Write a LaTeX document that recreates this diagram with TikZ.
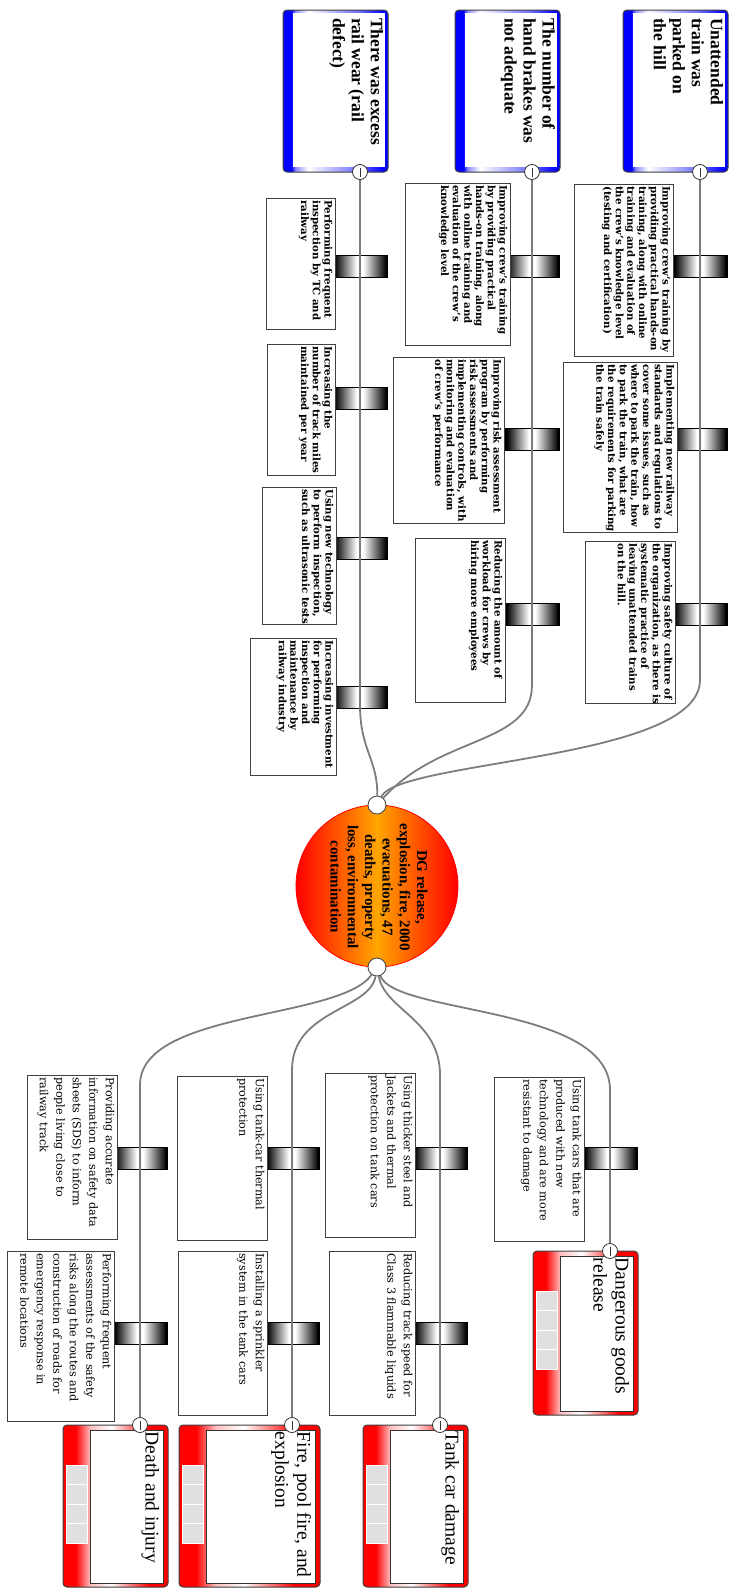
\documentclass[tikz,border=0pt]{standalone}
\usepackage{fontspec}
\setmainfont{Liberation Serif}
\newfontfamily\cfont{DejaVu Serif}
\definecolor{linegray}{RGB}{125,125,125}
\definecolor{midorange}{RGB}{255,165,0}
\colorlet{bluelight}{blue!45!white}
\colorlet{bluemid}{blue!55!white}
\colorlet{redlight}{red!25!white}
\pgfdeclarehorizontalshading{blueshade}{100bp}{color(0bp)=(blue); color(29bp)=(blue); color(31bp)=(bluelight); color(37bp)=(white); color(60bp)=(bluemid); color(73bp)=(blue); color(100bp)=(blue)}
\pgfdeclarehorizontalshading{redshade}{100bp}{color(0bp)=(red); color(31bp)=(red); color(38bp)=(redlight); color(48bp)=(white); color(66bp)=(red); color(100bp)=(red)}
\pgfdeclarehorizontalshading{barshade}{100bp}{color(0bp)=(black); color(26.5bp)=(black); color(47bp)=(white); color(53bp)=(white); color(74bp)=(black); color(100bp)=(black)}
\pgfdeclarelayer{bglayer}
\pgfdeclarelayer{barlayer}
\pgfdeclarelayer{linelayer}
\pgfsetlayers{bglayer,barlayer,linelayer,main}
\tikzset{
  conn/.style={draw=linegray, line width=1.8pt},
  ctrlbox/.style={rectangle, draw=black!75, fill=white, line width=0.8pt, inner sep=0, outer sep=0},
  ltxt/.style={font=\cfont\bfseries\fontsize{10.2}{11.7}\selectfont, align=left, inner sep=0, rotate=-90, anchor=north west},
  rtxt/.style={font=\cfont\fontsize{11.2}{16.5}\selectfont, align=left, inner sep=0, rotate=-90, anchor=north west},
  barrier/.style={rectangle, shade, shading=barshade, draw=black, line width=0.6pt, minimum width=54, minimum height=22, inner sep=0},
  icirc/.style={circle, draw=black!80, fill=white, minimum size=15, inner sep=0, line width=0.8pt, path picture={\draw[line width=0.9pt] ([yshift=-4.5pt]path picture bounding box.center) -- ([yshift=4.5pt]path picture bounding box.center);}},
  jcirc/.style={circle, draw=black!70, fill=white, minimum size=18, inner sep=0, line width=0.9pt},
  threatbox/.style={rectangle, rounded corners=4pt, shade, shading=blueshade, draw=black!75, line width=1pt, inner sep=0},
  consbox/.style={rectangle, rounded corners=4pt, shade, shading=redshade, draw=black!75, line width=1pt, inner sep=0},
  innerwhite/.style={rectangle, fill=white, inner sep=0},
  consinner/.style={rectangle, fill=white, draw=black!80, line width=0.6pt, inner sep=0},
  cell/.style={rectangle, fill=black!12, draw=white, line width=0.8pt, inner sep=0, minimum width=21, minimum height=19.5},
  threattxt/.style={font=\bfseries\fontsize{17.5}{19}\selectfont, align=left, inner sep=0, rotate=-90, anchor=north west},
  constxt/.style={font=\fontsize{19.5}{22}\selectfont, align=left, inner sep=0, rotate=-90, anchor=north west},
  tetxt/.style={font=\bfseries\fontsize{15}{17.3}\selectfont, align=center, inner sep=0, rotate=-90}
}
\newcommand\ctl[7]{%
  \node[ctrlbox, minimum width={#4-#2}, minimum height={#5-#3}] (#1) at ({(#2+#4)/2},{(#3+#5)/2}) {};
  \node[#6] (#1-t) at ([shift={(-2.5,2)}]#1.north east) {#7};}
\newcommand\threat[6]{%
  \node[threatbox, minimum width={#4-#2}, minimum height={#5-#3}] (#1) at ({(#2+#4)/2},{(#3+#5)/2}) {};
  \node[innerwhite, minimum width={#4-#2-13}, minimum height={#5-#3-8}] (#1-in) at ({(#2+#4)/2+3.5},{(#3+#5)/2-1}) {};
  \node[threattxt] (#1-t) at ([shift={(-2,5)}]#1-in.north east) {#6};}
\newcommand\conseq[6]{%
  \node[consbox, minimum width={#4-#2}, minimum height={#5-#3}] (#1) at ({(#2+#4)/2},{(#3+#5)/2}) {};
  \node[consinner, minimum width={#4-#2-32}, minimum height={#5-#3-9}] (#1-in) at ({(#2+#4)/2+11},{(#3+#5)/2+0.5}) {};
  \foreach \k in {0,1,2,3} {\node[cell] (#1-c\k) at ({#2+13.5},{#3+49.75+19.5*\k}) {};}
  \node[constxt] (#1-t) at ([shift={(-4,2)}]#1-in.north east) {#6};}
\begin{document}
\begin{tikzpicture}[x=1pt,y=-1pt]
\useasboundingbox (0,0) rectangle (735,1590);
\begin{pgfonlayer}{bglayer}
\path[fill=white] (0,0) rectangle (735,1590);
\end{pgfonlayer}

% threats
\threat{t1}{623}{10}{728}{172}{Unattended\\train was\\parked on\\the hill}
\threat{t2}{455}{10}{560}{172}{The number of\\hand brakes was\\not adequate}
\threat{t3}{283}{10}{388}{172}{There was excess\\rail wear (rail\\defect)}
\node[icirc] (t1c) at (700,172) {};
\node[icirc] (t2c) at (532,172) {};
\node[icirc] (t3c) at (360,172) {};

% threat-side controls
\ctl{c1a}{574}{184}{673}{356}{ltxt}{Improving crew’s training by\\providing practical hands-on\\training, along with online\\training and evaluation of\\the crew’s knowledge level\\(testing and certification)}
\ctl{c1b}{563}{362}{677}{532}{ltxt}{Implementing new railway\\standards and regulations to\\cover some issues, such as\\where to park the train, how\\to park the train, what are\\the requirements for parking\\the train safely}
\ctl{c1c}{585}{541}{675}{703}{ltxt}{Improving safety culture of\\the organization, as there is\\systematic practice of\\leaving unattended trains\\on the hill.}
\ctl{c2a}{405}{183}{510}{345}{ltxt}{Improving crew’s training\\by providing practical\\hands-on training, along\\with online training and\\evaluation of the crew’s\\knowledge level}
\ctl{c2b}{393}{357}{504}{523}{ltxt}{Improving risk assessment\\program by performing\\risk assessments and\\implementing controls, with\\monitoring and evaluation\\of crew’s performance}
\ctl{c2c}{415}{538}{505}{702}{ltxt}{Reducing the amount of\\workload for crews by\\hiring more employees}
\ctl{c3a}{266}{198}{335}{329}{ltxt}{Performing frequent\\inspection by TC and\\railway}
\ctl{c3b}{267}{344}{335}{475}{ltxt}{Increasing the\\number of track miles\\maintained per year}
\ctl{c3c}{262}{487}{336}{624}{ltxt}{Using new technology\\to perform inspection,\\such as ultrasonic tests}
\ctl{c3d}{250}{638}{336}{775}{ltxt}{Increasing investment\\for performing\\inspection and\\maintenance by\\railway industry}

% top event
\node[circle, minimum size=162, inner sep=0, left color=red, right color=red, middle color=midorange, draw=red, line width=0.8pt] (te) at (377,886) {};
\node[tetxt] (te-t) at (379,887) {DG release,\\explosion, fire, 2000\\evacuations, 47\\deaths, property\\loss, environmental\\contamination};
\node[jcirc] (teIn) at (377,805) {};
\node[jcirc] (teOut) at (377,967) {};

% consequence-side controls
\ctl{r1a}{494}{1077}{584}{1241}{rtxt}{Using tank cars that are\\produced with new\\technology and are more\\resistant to damage}
\ctl{r2a}{325}{1073}{415}{1237}{rtxt}{Using thicker steel and\\Jackets and thermal\\protection on tank cars}
\ctl{r2b}{329}{1251}{415}{1415}{rtxt}{Reducing track speed for\\Class 3 flammable liquids}
\ctl{r3a}{177}{1076}{267}{1240}{rtxt}{Using tank-car thermal\\protection}
\ctl{r3b}{178}{1251}{267}{1415}{rtxt}{Installing a sprinkler\\system in the tank cars}
\ctl{r4a}{27}{1075}{117}{1239}{rtxt}{Providing accurate\\information on safety data\\sheets (SDS) to inform\\people living close to\\railway track}
\ctl{r4b}{7}{1251}{114}{1421}{rtxt}{Performing frequent\\assessments of the safety\\risks along the routes and\\construction of roads for\\emergency response in\\remote locations}

% consequences
\conseq{q1}{533}{1251}{638}{1415}{Dangerous goods\\release}
\conseq{q2}{363}{1425}{468}{1587}{Tank car damage}
\conseq{q3}{179}{1425}{320}{1587}{Fire, pool fire, and\\explosion}
\conseq{q4}{63}{1425}{168}{1587}{Death and injury}
\node[icirc] (q1c) at (610,1251) {};
\node[icirc] (q2c) at (440,1425) {};
\node[icirc] (q3c) at (292,1425) {};
\node[icirc] (q4c) at (140,1425) {};

% barriers
\begin{pgfonlayer}{barlayer}
\node[barrier] (b1a) at (700,266) {};
\node[barrier] (b1b) at (700,439) {};
\node[barrier] (b1c) at (700,614) {};
\node[barrier] (b2a) at (532,266) {};
\node[barrier] (b2b) at (532,439) {};
\node[barrier] (b2c) at (532,614) {};
\node[barrier] (b3a) at (360,266) {};
\node[barrier] (b3b) at (360,398) {};
\node[barrier] (b3c) at (360,548) {};
\node[barrier] (b3d) at (360,697) {};
\node[barrier] (s1a) at (610,1158) {};
\node[barrier] (s2a) at (440,1158) {};
\node[barrier] (s2b) at (440,1333) {};
\node[barrier] (s3a) at (292,1158) {};
\node[barrier] (s3b) at (292,1333) {};
\node[barrier] (s4a) at (140,1158) {};
\node[barrier] (s4b) at (140,1333) {};
\end{pgfonlayer}

% connectors
\coordinate (k1) at (700,680);
\coordinate (k2) at (532,685);
\coordinate (k3) at (360,705);
\coordinate (m1) at (610,1090);
\coordinate (m2) at (440,1075);
\coordinate (m3) at (292,1070);
\coordinate (m4) at (140,1085);
\begin{pgfonlayer}{linelayer}
\draw[conn] (t1c) -- (k1) .. controls (700,760) and (400,760) .. (teIn);
\draw[conn] (t2c) -- (k2) .. controls (532,745) and (440,735) .. (teIn);
\draw[conn] (t3c) -- (k3) .. controls (360,750) and (378,760) .. (teIn);
\draw[conn] (teOut) .. controls (395,1015) and (610,1005) .. (m1) -- (q1c);
\draw[conn] (teOut) .. controls (385,1010) and (440,1020) .. (m2) -- (q2c);
\draw[conn] (teOut) .. controls (370,1010) and (292,1010) .. (m3) -- (q3c);
\draw[conn] (teOut) .. controls (340,1020) and (140,1010) .. (m4) -- (q4c);
\end{pgfonlayer}
\end{tikzpicture}
\end{document}
